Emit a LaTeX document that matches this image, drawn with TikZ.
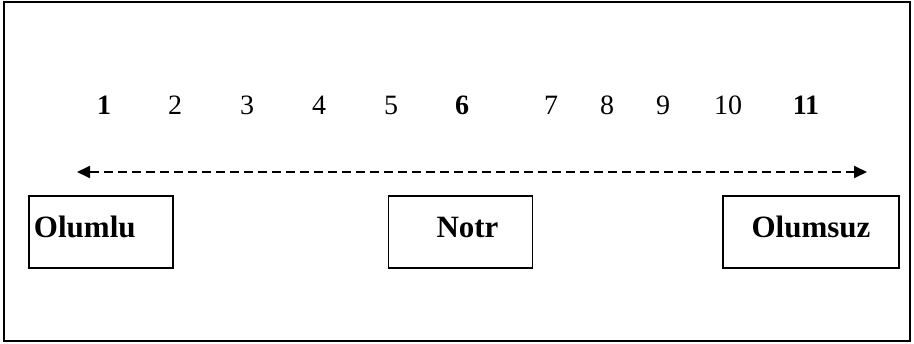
\documentclass[tikz,border=0pt]{standalone}
\usepackage{fontspec}
\setmainfont{Liberation Serif}
\usetikzlibrary{arrows.meta}

\tikzset{
    scalebox/.style={draw, rectangle, line width=1.8pt, inner sep=0pt, minimum width=144pt, minimum height=72pt,
        font=\fontsize{31}{36}\selectfont\bfseries, text height=22pt, text depth=10pt},
    scalenum/.style={anchor=base, inner sep=0pt, font=\fontsize{28}{33}\selectfont}
}

\begin{document}
\begin{tikzpicture}[x=1pt, y=-1pt]
        \useasboundingbox (0,0) rectangle (914,344);
        \draw[line width=2pt] (4,2) rectangle (910,341);

        % Numbers
        \foreach \x/\t [count=\i] in {104/\textbf{1}, 175/2, 247/3, 319/4, 391/5, 462/\textbf{6}, 551/7, 607/8, 663/9, 728/10, 806/\textbf{11}}
            \node[scalenum] (n\i) at (\x, 115) {\t};

        % Nodes
        \node[scalebox, text width=134pt, align=left] (olumlu) at (101, 232) {Olumlu};
        \node[scalebox] (notr) at (460.5, 232) {\hspace*{14pt}Notr};
        \node[scalebox, minimum width=176pt] (olumsuz) at (811, 232) {Olumsuz};

        % Arrows
        \coordinate (left) at (77, 172);
        \coordinate (right) at (867, 172);
        \draw[line width=1.8pt, dash pattern=on 9pt off 5pt, {Triangle[length=13pt, width=12pt]}-{Triangle[length=13pt, width=12pt]}] (left) -- (right);
    \end{tikzpicture}
\end{document}
